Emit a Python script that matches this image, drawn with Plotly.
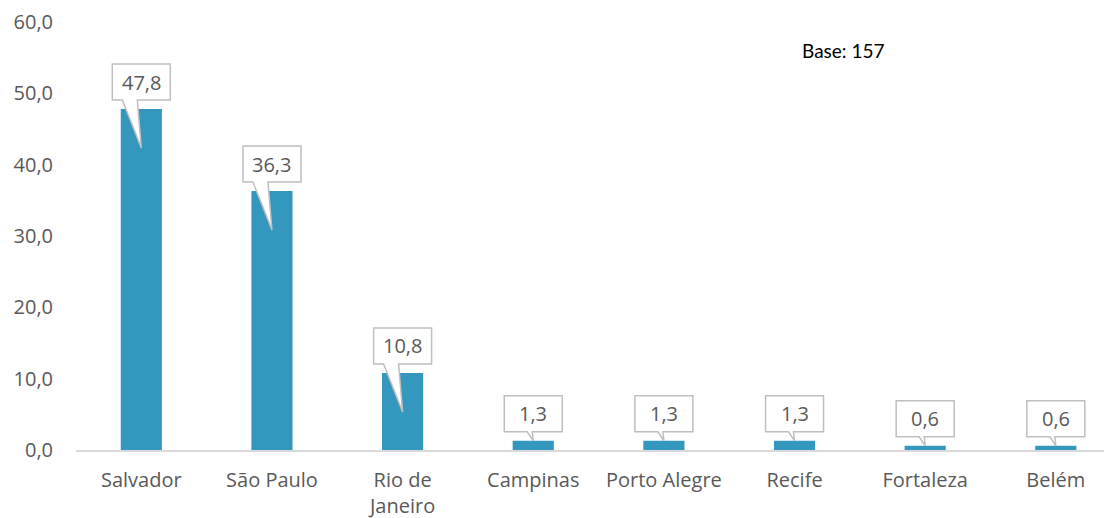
import plotly.graph_objects as go

categories = ["Salvador", "São Paulo", "Rio de<br>Janeiro", "Campinas", "Porto Alegre", "Recife", "Fortaleza", "Belém"]
values = [47.8, 36.3, 10.8, 1.3, 1.3, 1.3, 0.6, 0.6]
labels = ["47,8", "36,3", "10,8", "1,3", "1,3", "1,3", "0,6", "0,6"]
ytick_vals = [0, 10, 20, 30, 40, 50, 60]

BAR = "#3497BD"
TXT = "#595959"
FONT = "Open Sans"

x = list(range(len(categories)))

fig = go.Figure()
fig.add_trace(go.Bar(x=x, y=values, marker=dict(color=BAR, line=dict(width=0)), width=0.315,
                     hoverinfo="skip"))

shapes = []
annotations = []
for i, (v, lab) in enumerate(zip(values, labels)):
    big = v > 5
    d = 39 if big else 0
    wl, wr = (-19, -4) if big else (-6, -1)
    path = (f"M -29,9 L {wl},9 L 0,{-d} L {wr},9 L 29,9 L 29,45 L -29,45 Z")
    shapes.append(dict(type="path", xref="x", yref="y", xsizemode="pixel", ysizemode="pixel",
                       xanchor=i, yanchor=v, path=path, fillcolor="white",
                       line=dict(color="#BFBFBF", width=1.5), layer="above"))
    annotations.append(dict(x=i, y=v, xref="x", yref="y", text=lab, showarrow=False,
                            yshift=27, font=dict(family=FONT, size=20, color=TXT)))

# page has an 8px body margin: figure origin sits at page (8, 8)
L, T, PW, PH = 68, 14, 1036, 428
annotations.append(dict(x=(843 - 8 - L) / PW, y=(T + PH - (50 - 8)) / PH,
                        xref="paper", yref="paper", xanchor="center", yanchor="middle",
                        text="Base: 157", showarrow=False,
                        font=dict(family="Lato", size=19, color="black")))

fig.update_layout(
    width=1104, height=510,
    margin=dict(l=L, r=0, t=T, b=510 - T - PH, autoexpand=False),
    paper_bgcolor="white", plot_bgcolor="white",
    separators=",.",
    showlegend=False,
    shapes=shapes,
    annotations=annotations,
    xaxis=dict(range=[-0.5, 7.43], tickvals=x, ticktext=categories, showgrid=False,
               showline=True, linecolor="#D9D9D9", linewidth=1.5, ticks="", zeroline=False,
               automargin=False, ticklabelstandoff=11,
               tickfont=dict(family=FONT, size=20, color=TXT), fixedrange=True),
    yaxis=dict(range=[0, 60], tickvals=ytick_vals, tickformat=".1f", showgrid=False,
               showline=False, zeroline=False, ticks="", ticklabelstandoff=22, automargin=False,
               tickfont=dict(family=FONT, size=20, color=TXT), fixedrange=True),
)

fig.write_html("out.html")
